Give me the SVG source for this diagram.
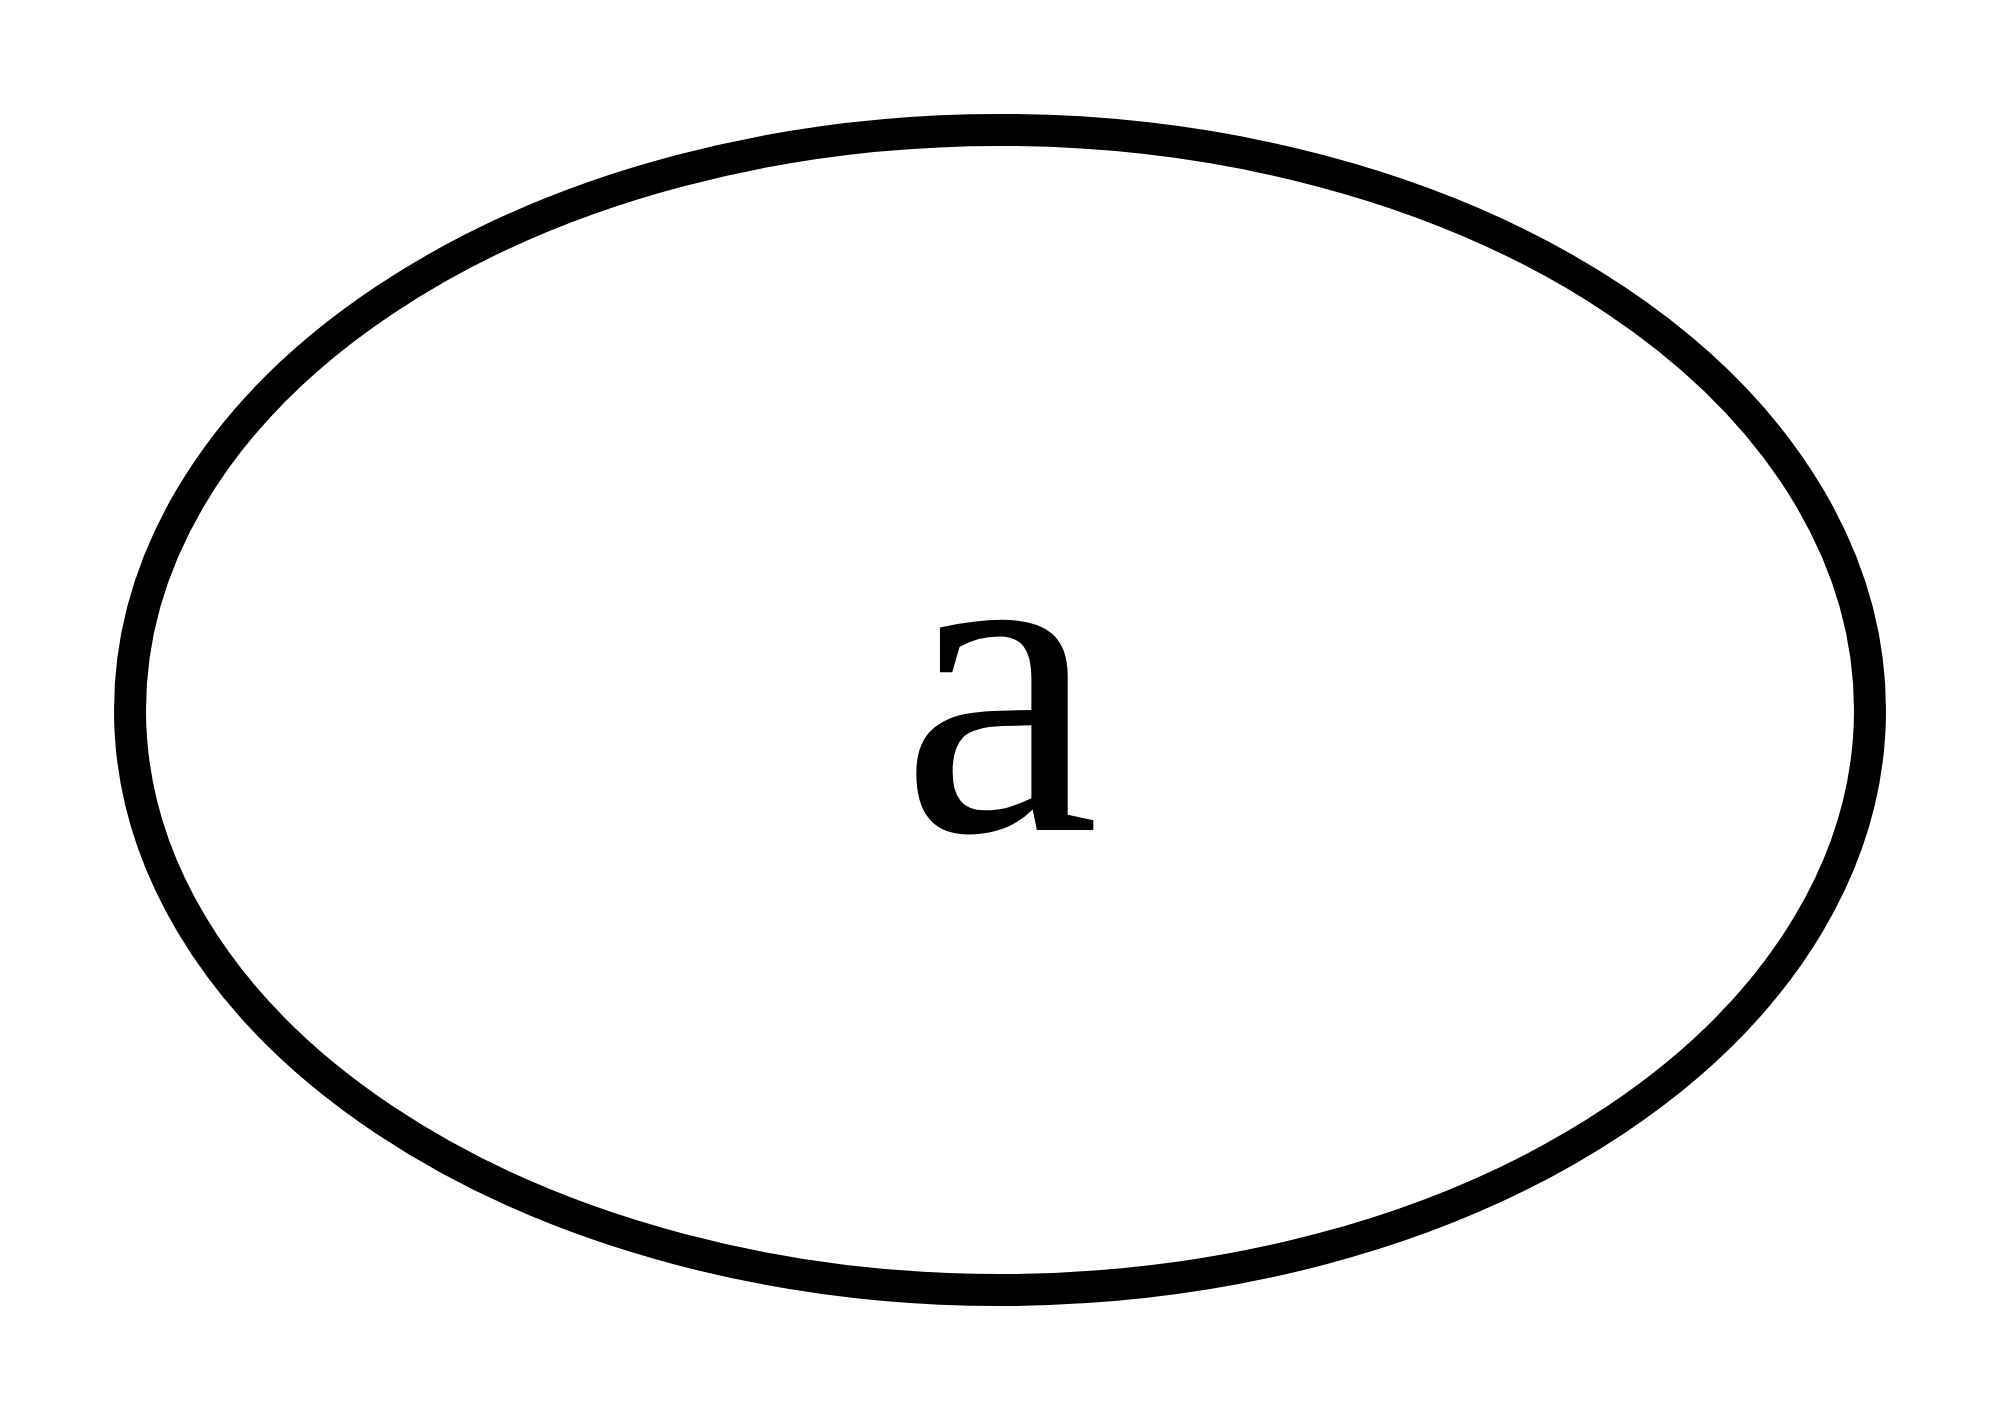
<svg xmlns="http://www.w3.org/2000/svg" width="2000" height="1419" viewBox="0 0 2000 1419">
<style>
.node-shape{fill:#fff;stroke:#000;stroke-width:32}
</style>
<rect width="2000" height="1419" fill="#fff"/>
<g id="connectors"></g>
<g id="node-a">
<ellipse class="node-shape" cx="1000" cy="710" rx="870" ry="580"/>
<text x="1000" y="830" font-family="Liberation Serif, serif" font-size="448" fill="#000" text-anchor="middle">a</text>
</g>
</svg>
